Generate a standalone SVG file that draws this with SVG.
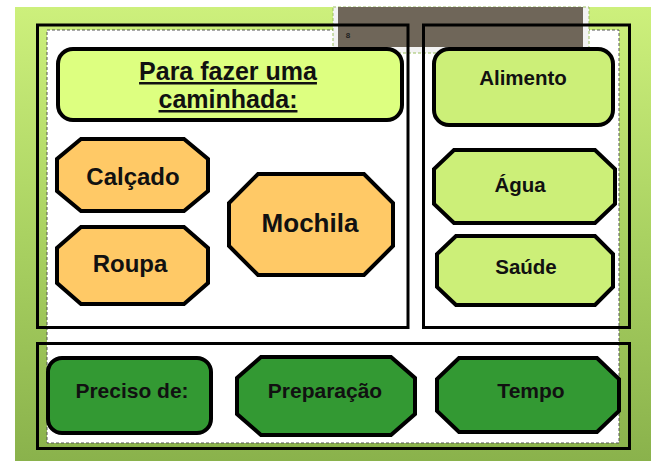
<svg xmlns="http://www.w3.org/2000/svg" width="656" height="461" viewBox="0 0 656 461">
  <defs>
    <linearGradient id="bg" x1="0" y1="0" x2="0" y2="1">
      <stop offset="0" stop-color="#cdf07c"/>
      <stop offset="0.5" stop-color="#aad262"/>
      <stop offset="1" stop-color="#8ab24c"/>
    </linearGradient>
  </defs>
  <style>
    .node { stroke: #000; stroke-width: 4; stroke-linejoin: miter; }
    .frame { fill: none; stroke: #000; stroke-width: 3; }
    .orange { fill: #ffc966; }
    .lime { fill: #ccef78; }
    .title { fill: #ddff80; }
    .dark { fill: #339933; }
    text { font-family: "Liberation Sans", Arial, sans-serif; font-weight: bold; fill: #111; text-anchor: middle; }
    .t24 { font-size: 24px; }
    .t26 { font-size: 26px; }
    .t20 { font-size: 20.5px; }
    .t21 { font-size: 21px; }
    .t25 { font-size: 25px; text-decoration: underline; }
  </style>

  <!-- background -->
  <rect x="15" y="7" width="636" height="454" fill="url(#bg)"/>
  <rect x="47" y="30" width="572" height="413" fill="#fff" stroke="#555" stroke-width="1" stroke-dasharray="3,2"/>
  <rect x="333" y="7" width="256" height="46" fill="#f2f2f2" stroke="#9cc060" stroke-width="1" stroke-dasharray="3,2"/>
  <rect x="338" y="7" width="245" height="40" fill="#6f6659"/>
  <text x="348" y="38" style="font-size:8px;fill:#222">8</text>

  <!-- frames -->
  <rect class="frame" x="37.5" y="25" width="370.5" height="302.5"/>
  <rect class="frame" x="423.5" y="25" width="206" height="302.5"/>
  <rect class="frame" x="37.5" y="343.5" width="592" height="105"/>

  <g id="connectors"/>

  <g id="title">
    <rect class="node title" x="58" y="49" width="344" height="71" rx="15"/>
    <text class="t25" x="228" y="80">Para fazer uma</text>
    <text class="t25" x="228" y="108">caminhada:</text>
  </g>

  <g id="calcado">
    <polygon class="node orange" points="81,139 184,139 208,159 208,191 184,211 81,211 57,191 57,159"/>
    <text class="t24" x="133" y="185">Calçado</text>
  </g>

  <g id="roupa">
    <polygon class="node orange" points="81,227 184,227 208,248 208,283 184,304 81,304 57,283 57,248"/>
    <text class="t24" x="130" y="272">Roupa</text>
  </g>

  <g id="mochila">
    <polygon class="node orange" points="258,174 364,174 393,203 393,246 364,275 258,275 229,246 229,203"/>
    <text class="t26" x="310" y="232">Mochila</text>
  </g>

  <g id="alimento">
    <rect class="node lime" x="434" y="49" width="179" height="76" rx="15"/>
    <text class="t20" x="523" y="85">Alimento</text>
  </g>

  <g id="agua">
    <polygon class="node lime" points="454,150 595,150 615,169 615,204 595,223 454,223 434,204 434,169"/>
    <text class="t20" x="520" y="192">Água</text>
  </g>

  <g id="saude">
    <polygon class="node lime" points="456,236 595,236 613,254 613,287 595,305 456,305 437,287 437,254"/>
    <text class="t20" x="526" y="274">Saúde</text>
  </g>

  <g id="preciso">
    <rect class="node dark" x="48" y="358" width="163" height="75" rx="14"/>
    <text class="t21" x="132" y="398">Preciso de:</text>
  </g>

  <g id="preparacao">
    <polygon class="node dark" points="261,357 391,357 415,378 415,414 391,435 261,435 237,414 237,378"/>
    <text class="t21" x="325" y="398">Preparação</text>
  </g>

  <g id="tempo">
    <polygon class="node dark" points="459,358 597,358 619,379 619,411 597,432 459,432 437,411 437,379"/>
    <text class="t21" x="531" y="398">Tempo</text>
  </g>
</svg>
